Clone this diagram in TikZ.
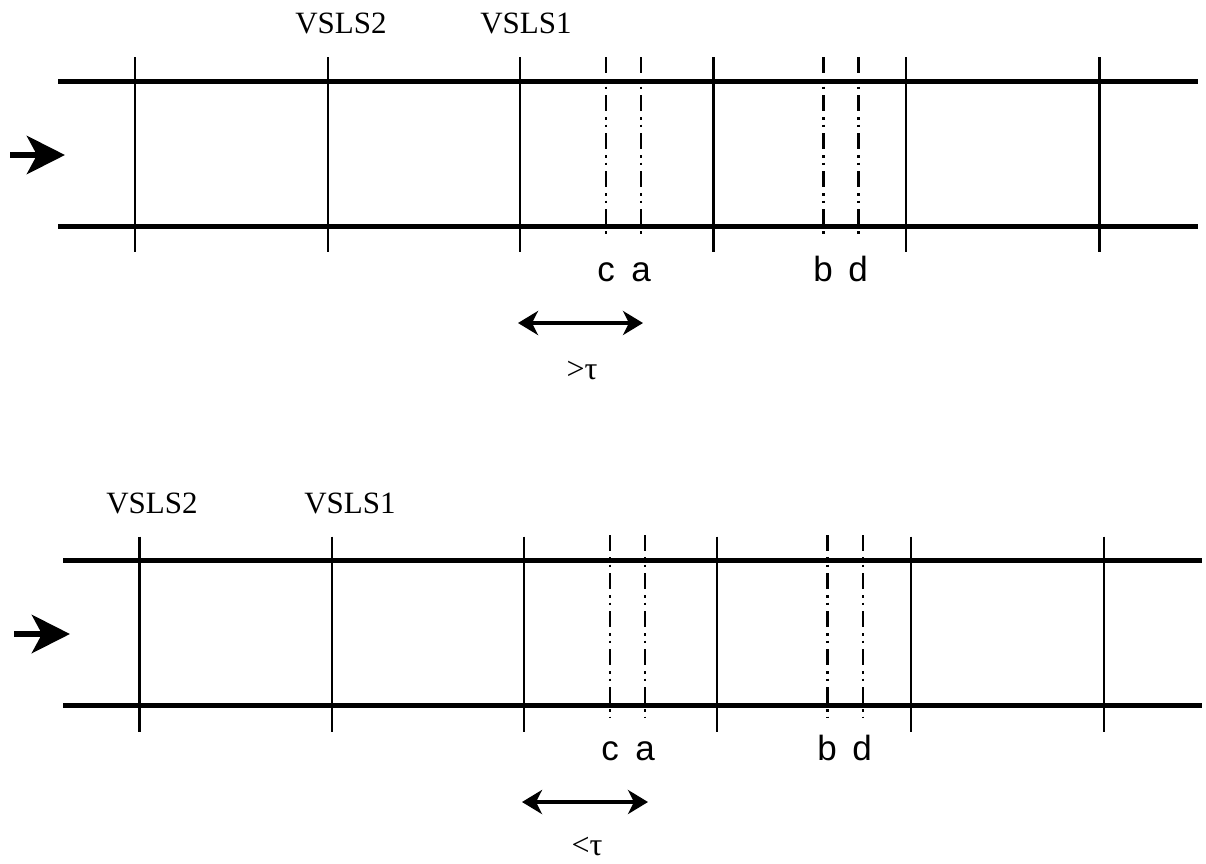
\documentclass[tikz,border=0pt]{standalone}
\usepackage{fontspec}
\setmainfont{Liberation Serif}
\newfontfamily\sansf{Liberation Sans}
\usetikzlibrary{arrows.meta}
\begin{document}
\begin{tikzpicture}[x=1pt,y=-1pt,
  road/.style={line width=5.5pt},
  gate/.style={line width=2.4pt},
  detector/.style={line width=2.4pt,dash pattern=on 16pt off 6pt on 2.5pt off 5pt on 2.5pt off 6pt},
  flow/.style={line width=6.5pt,-{Stealth[length=38pt,width=38pt,inset=10pt]}},
  span/.style={line width=3.5pt,{Stealth[length=20pt,width=24pt,inset=6pt]}-{Stealth[length=20pt,width=24pt,inset=6pt]}},
  vsls/.style={font=\fontsize{31}{31}\selectfont,anchor=base,inner sep=0pt},
  det/.style={font=\sansf\fontsize{35}{35}\selectfont,anchor=base,inner sep=0pt},
  tau/.style={font=\fontsize{32}{32}\selectfont,anchor=base,inner sep=0pt}]
\useasboundingbox (0,0) rectangle (1206,863);
% ---------- top panel ----------
\draw[road] (58,81.7) -- (1198,81.7);
\draw[road] (58,226.7) -- (1198,226.7);
\foreach \x in {135,327.7,520,713.3,906,1099.3}
  \draw[gate] (\x,57) -- (\x,252);
\foreach \x in {606,640.7,823.3,858.3}
  \draw[detector] (\x,57) -- (\x,238);
\coordinate (fa1) at (10,155);
\coordinate (fb1) at (65,155);
\draw[flow] (fa1) -- (fb1);
\node[vsls] (v2t) at (341,33) {VSLS2};
\node[vsls] (v1t) at (526,33) {VSLS1};
\node[det] (ct) at (606,281) {c};
\node[det] (at) at (641,281) {a};
\node[det] (bt) at (823,281) {b};
\node[det] (dt) at (858,281) {d};
\coordinate (sa1) at (518,323);
\coordinate (sb1) at (643,323);
\draw[span] (sa1) -- (sb1);
\node[tau] (gt) at (582,379) {>τ};
% ---------- bottom panel ----------
\draw[road] (63,560.7) -- (1201.7,560.7);
\draw[road] (63,705.7) -- (1201.7,705.7);
\foreach \x in {139.3,331.7,524,716.7,911,1104}
  \draw[gate] (\x,536.7) -- (\x,731.7);
\foreach \x in {610,645,827.3,862.7}
  \draw[detector] (\x,535) -- (\x,717);
\coordinate (fa2) at (14,634);
\coordinate (fb2) at (70,634);
\draw[flow] (fa2) -- (fb2);
\node[vsls] (v2b) at (152,513) {VSLS2};
\node[vsls] (v1b) at (350,513) {VSLS1};
\node[det] (cb) at (610,760) {c};
\node[det] (ab) at (645,760) {a};
\node[det] (bb) at (827,760) {b};
\node[det] (db) at (862,760) {d};
\coordinate (sa2) at (522,802);
\coordinate (sb2) at (648,802);
\draw[span] (sa2) -- (sb2);
\node[tau] (lt) at (587,855) {<τ};
\end{tikzpicture}
\end{document}
